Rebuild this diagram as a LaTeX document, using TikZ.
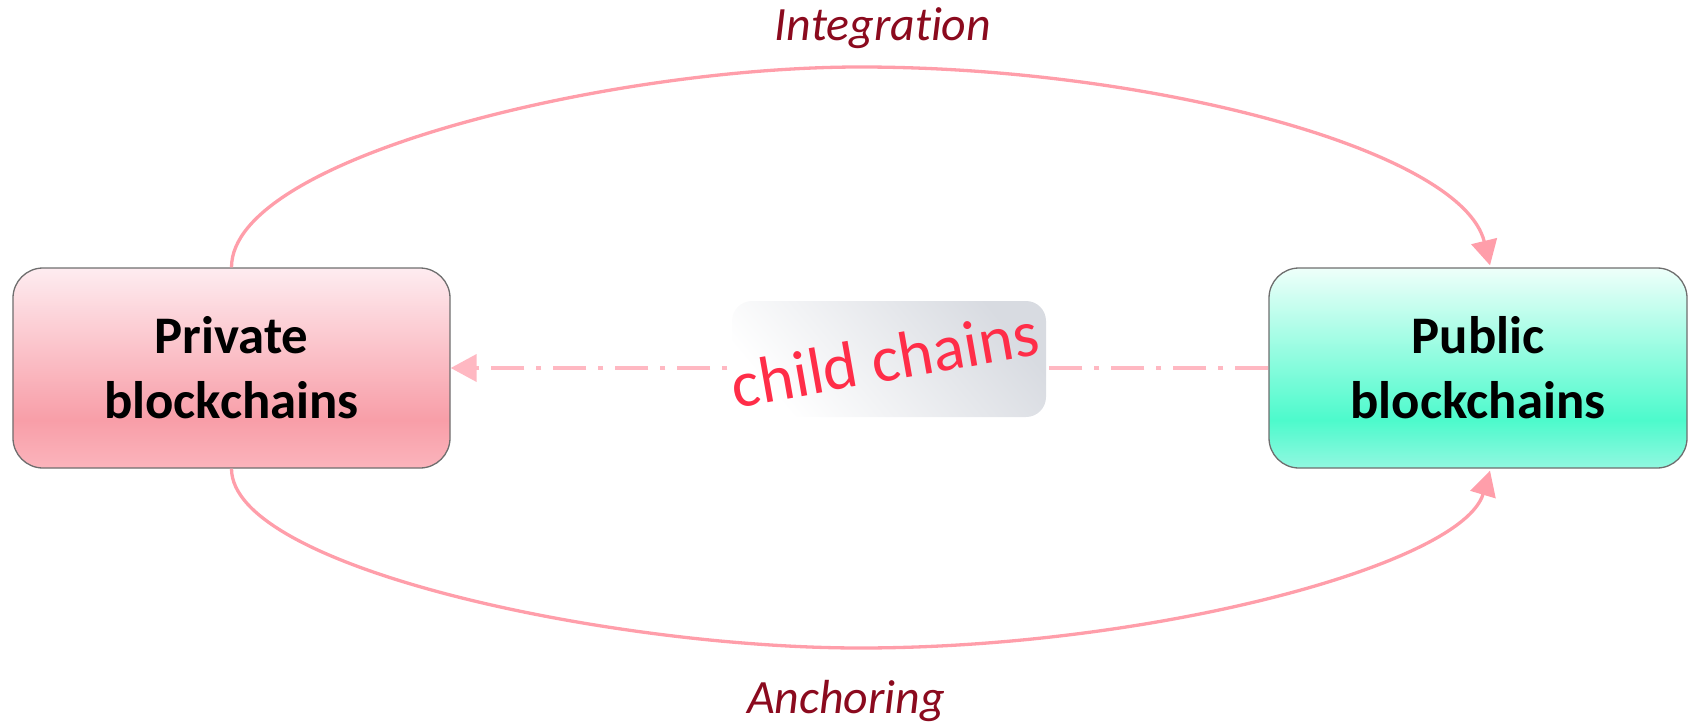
\documentclass[tikz,border=0pt]{standalone}
\usepackage{fontspec}
\setmainfont{Carlito}[Ligatures={NoCommon,NoRare}]
\usetikzlibrary{arrows.meta,calc}

\definecolor{flowpink}{RGB}{255,158,170}
\definecolor{dashpink}{RGB}{255,184,194}
\definecolor{labelred}{RGB}{139,10,30}
\definecolor{childred}{RGB}{255,45,72}
\definecolor{edgegray}{RGB}{110,110,110}
\definecolor{privtop}{RGB}{254,236,240}
\definecolor{privmid}{RGB}{248,158,168}
\definecolor{privbot}{RGB}{251,180,188}
\definecolor{pubtop}{RGB}{238,255,250}
\definecolor{pubmid}{RGB}{77,250,204}
\definecolor{pubbot}{RGB}{145,248,224}
\definecolor{childgray}{RGB}{216,219,225}

% vertical fills of the two chain boxes (path covers 25bp..75bp)
\pgfdeclareverticalshading{privshade}{100bp}{color(0bp)=(privbot); color(25bp)=(privbot); color(37bp)=(privmid); color(75bp)=(privtop); color(100bp)=(privtop)}
\pgfdeclareverticalshading{pubshade}{100bp}{color(0bp)=(pubbot); color(25bp)=(pubbot); color(37bp)=(pubmid); color(75bp)=(pubtop); color(100bp)=(pubtop)}

\begin{document}
\begin{tikzpicture}[x=1bp,y=-1bp,
  chainbox/.style={draw=edgegray, line width=1.3bp, rounded corners=30bp,
    minimum height=200bp, align=center, inner sep=0pt,
    font=\fontsize{53}{65}\selectfont\bfseries},
  privbox/.style={chainbox, shade, shading=privshade, minimum width=437bp},
  pubbox/.style={chainbox, shade, shading=pubshade, minimum width=418bp},
  childbox/.style={rounded corners=20bp, minimum width=314bp, minimum height=116bp,
    inner sep=0pt, top color=childgray, bottom color=white, shading angle=-50},
  childtext/.style={font=\fontsize{66}{78}\selectfont, text=childred, inner sep=0pt},
  flowlabel/.style={font=\fontsize{48}{58}\selectfont\itshape, text=labelred, inner sep=0pt},
  flow/.style={draw=flowpink, line width=3.3bp, -{Triangle[length=25bp,width=26bp]}},
  dashlink/.style={draw=dashpink, line width=4bp,
    dash pattern=on 33bp off 12bp on 5bp off 12bp,
    -{Triangle[length=26bp,width=27bp]}}
]
\useasboundingbox (0,0) rectangle (1688,723);

% the two kinds of chain
\node[privbox] (priv) at (231.5,368) {Private\\blockchains};
\node[pubbox] (pub) at (1478,368) {Public\\blockchains};

% arrow tips land a little right of the public box centre
\coordinate (pubtop) at ($(pub.north)+(12,-2)$);
\coordinate (pubbottom) at ($(pub.south)+(12,2)$);

% child chains link, running behind the middle label
\draw[dashlink] (pub.west) -- (priv.east);
\node[childbox] (child) at (889,359) {};
\node[childtext, rotate=10, anchor=base] (childtxt) at (889,381) {child chains};

% integration: over the top
\draw[flow] (priv.north) .. controls +(0,-110) and (610,67) .. (860,67)
  .. controls (1150,67) and (1462,150) .. (pubtop);
% anchoring: underneath
\draw[flow] (priv.south) .. controls +(0,99) and (610,648) .. (860,648)
  .. controls (1150,648) and (1462,565) .. (pubbottom);

\node[flowlabel, anchor=base] (integ) at (883,41) {Integration};
\node[flowlabel, anchor=base] (anchor) at (846,713) {Anchoring};
\end{tikzpicture}
\end{document}
